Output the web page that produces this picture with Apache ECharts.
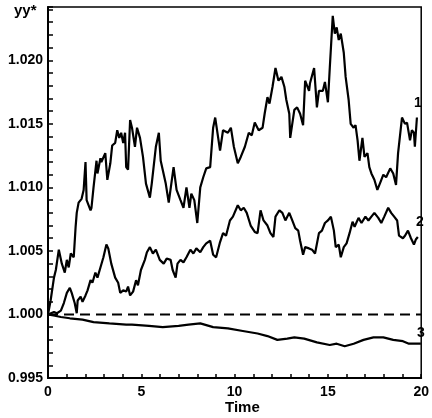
<!DOCTYPE html>
<html>
<head>
<meta charset="utf-8">
<script src="https://cdn.jsdelivr.net/npm/echarts@6/dist/echarts.min.js"></script>
<style>
html,body{margin:0;padding:0;background:#fff;}
#chart{width:432px;height:418px;}
</style>
</head>
<body>
<div id="chart"></div>
<script>
// Curve 1
var t1 = [0,0.05,0.14,0.32,0.42,0.58,0.74,0.90,1.01,1.11,1.22,1.38,1.48,1.54,1.64,1.80,1.91,2.01,2.07,2.28,2.33,2.44,2.60,2.65,2.81,2.86,3.07,3.18,3.34,3.44,3.60,3.71,3.82,3.92,4.03,4.13,4.19,4.29,4.40,4.50,4.66,4.77,4.93,5.09,5.25,5.46,5.56,5.78,5.94,6.04,6.31,6.47,6.73,6.89,7.10,7.26,7.42,7.58,7.68,7.84,8.00,8.16,8.32,8.48,8.69,8.85,8.96,9.12,9.22,9.38,9.64,9.80,9.96,10.17,10.33,10.55,10.76,10.92,11.08,11.29,11.50,11.61,11.76,11.87,12.03,12.19,12.35,12.51,12.67,12.77,12.93,12.98,13.20,13.35,13.51,13.67,13.78,13.99,14.04,14.26,14.41,14.52,14.73,14.84,15.00,15.10,15.26,15.37,15.47,15.58,15.69,15.85,15.95,16.11,16.22,16.38,16.48,16.59,16.69,16.85,16.96,17.12,17.22,17.33,17.49,17.65,17.81,17.97,18.12,18.34,18.50,18.65,18.76,18.97,19.13,19.24,19.40,19.50,19.61,19.66,19.77];
var y1 = [1.0000,1.0001,1.0011,1.0029,1.0035,1.0051,1.0040,1.0033,1.0043,1.0037,1.0048,1.0045,1.0069,1.0080,1.0088,1.0091,1.0098,1.0120,1.0090,1.0082,1.0084,1.0100,1.0121,1.0111,1.0123,1.0120,1.0127,1.0106,1.0119,1.0133,1.0135,1.0145,1.0139,1.0143,1.0135,1.0143,1.0116,1.0114,1.0153,1.0147,1.0132,1.0147,1.0139,1.0124,1.0103,1.0092,1.0103,1.0132,1.0143,1.0121,1.0103,1.0088,1.0116,1.0098,1.0090,1.0084,1.0100,1.0084,1.0095,1.0090,1.0072,1.0100,1.0108,1.0115,1.0116,1.0147,1.0155,1.0139,1.0129,1.0145,1.0143,1.0147,1.0132,1.0119,1.0124,1.0132,1.0143,1.0141,1.0151,1.0145,1.0147,1.0158,1.0171,1.0166,1.0179,1.0194,1.0184,1.0187,1.0179,1.0169,1.0158,1.0139,1.0161,1.0163,1.0158,1.0149,1.0184,1.0176,1.0182,1.0194,1.0163,1.0176,1.0176,1.0183,1.0167,1.0194,1.0235,1.0221,1.0226,1.0216,1.0221,1.0206,1.0187,1.0169,1.0150,1.0147,1.0149,1.0137,1.0121,1.0139,1.0124,1.0127,1.0116,1.0111,1.0106,1.0098,1.0104,1.0110,1.0108,1.0115,1.0111,1.0102,1.0127,1.0155,1.0150,1.0151,1.0137,1.0145,1.0143,1.0132,1.0155];
// Curve 2
var t2 = [0,0.16,0.32,0.48,0.69,0.85,1.01,1.17,1.27,1.43,1.54,1.59,1.75,1.85,2.01,2.12,2.28,2.38,2.54,2.65,2.81,2.97,3.13,3.23,3.39,3.60,3.76,3.87,4.03,4.19,4.29,4.40,4.56,4.72,4.82,4.98,5.19,5.30,5.46,5.62,5.78,5.99,6.20,6.36,6.57,6.68,6.84,6.94,7.10,7.26,7.42,7.63,7.79,7.95,8.16,8.32,8.48,8.69,8.85,9.01,9.22,9.38,9.54,9.75,9.91,10.17,10.33,10.49,10.65,10.86,11.08,11.23,11.39,11.55,11.76,11.92,12.08,12.19,12.40,12.56,12.72,12.93,13.09,13.25,13.41,13.51,13.67,13.78,13.99,14.15,14.31,14.52,14.68,14.84,15.00,15.16,15.32,15.42,15.58,15.69,15.85,16.00,16.16,16.32,16.43,16.64,16.80,17.01,17.17,17.33,17.49,17.70,17.86,18.02,18.23,18.39,18.55,18.71,18.81,19.02,19.13,19.29,19.45,19.61,19.71,19.82];
var y2 = [1.0000,1.0001,1.0002,1.0001,1.0003,1.0009,1.0017,1.0021,1.0017,1.0009,1.0001,1.0011,1.0014,1.0010,1.0015,1.0019,1.0027,1.0025,1.0033,1.0029,1.0037,1.0045,1.0055,1.0052,1.0040,1.0029,1.0025,1.0017,1.0019,1.0018,1.0022,1.0015,1.0018,1.0027,1.0023,1.0035,1.0043,1.0049,1.0053,1.0048,1.0051,1.0043,1.0040,1.0044,1.0043,1.0035,1.0029,1.0040,1.0043,1.0041,1.0045,1.0051,1.0048,1.0052,1.0049,1.0053,1.0056,1.0058,1.0047,1.0045,1.0057,1.0064,1.0062,1.0074,1.0077,1.0086,1.0082,1.0084,1.0080,1.0070,1.0065,1.0064,1.0082,1.0074,1.0070,1.0064,1.0061,1.0077,1.0082,1.0080,1.0074,1.0080,1.0074,1.0068,1.0066,1.0058,1.0047,1.0053,1.0052,1.0051,1.0048,1.0064,1.0066,1.0072,1.0074,1.0077,1.0066,1.0053,1.0055,1.0045,1.0053,1.0056,1.0064,1.0073,1.0069,1.0076,1.0072,1.0077,1.0074,1.0077,1.0080,1.0076,1.0072,1.0077,1.0084,1.0080,1.0077,1.0074,1.0062,1.0060,1.0062,1.0066,1.0060,1.0055,1.0059,1.0061];
// Curve 3
var t3 = [0,0.37,0.69,1.17,1.85,2.44,3.29,4.19,4.50,5.41,6.15,7.00,7.53,8.16,8.85,9.64,10.44,11.23,11.76,12.29,12.82,13.20,13.73,14.41,15.10,15.47,15.90,16.38,16.91,17.44,17.97,18.50,19.02,19.34,19.98];
var y3 = [1.0000,0.9999,0.9998,0.9997,0.9996,0.9994,0.9993,0.9992,0.9992,0.9991,0.9990,0.9991,0.9992,0.9993,0.9990,0.9989,0.9987,0.9985,0.9983,0.9980,0.9981,0.9982,0.9981,0.9978,0.9976,0.9977,0.9975,0.9977,0.9980,0.9982,0.9982,0.9980,0.9979,0.9977,0.9977];
// Reference (dashed) level
var refT = [0, 20];
var refY = [1.000, 1.000];
var curveNames = ['1','2','3'];

function zip(a, b){ var o=[]; for(var i=0;i<a.length;i++) o.push([a[i], b[i]]); return o; }

var font = 'Liberation Sans, Arial, Helvetica, sans-serif';
var chart = echarts.init(document.getElementById('chart'), null, {renderer:'canvas'});

function lineSeries(name, data){
  return {
    name: name, type: 'line', data: data, showSymbol: false, symbol: 'none',
    lineStyle: {color:'#000', width: 2.2}
  };
}
function txt(text, left, top, size){
  return {text: text, left: left, top: top, padding: 0,
    textStyle: {color:'#000', fontWeight:'bold', fontSize: size, fontFamily: font}};
}

chart.setOption({
  animation: false,
  title: [
    txt('yy*', 14, 3, 15),
    txt('Time', 225, 400, 15),
    txt(curveNames[0], 414, 96, 14),
    txt(curveNames[1], 416, 215, 14),
    txt(curveNames[2], 417, 326, 14)
  ],
  grid: {left: 48, right: 6, top: 7, bottom: 40, show: true, borderColor: '#000', borderWidth: 1.5},
  xAxis: {type:'value', min:0, max:20, interval:1,
    axisLine:{show:true, lineStyle:{color:'#000', width:2}},
    axisTick:{show:true, inside:true, length:4, lineStyle:{color:'#000', width:1.5}},
    axisLabel: {show: true, color:'#000', fontWeight:'bold', fontSize: 14, fontFamily: font, margin: 7,
      formatter: function(v){ return (Math.round(v) % 5 === 0) ? String(Math.round(v)) : ''; }},
    splitLine:{show:false}},
  yAxis: {type:'value', min:0.995, max:1.0242, interval:0.001,
    axisLine:{show:true, lineStyle:{color:'#000', width:2}},
    axisTick:{show:true, inside:true, length:5, lineStyle:{color:'#000', width:1.5}},
    axisLabel: {show: true, color:'#000', fontWeight:'bold', fontSize: 14, fontFamily: font, margin: 5,
      formatter: function(v){ var k = Math.round(v*1000); return (Math.abs(v*1000-k) < 1e-6 && k % 5 === 0) ? (k/1000).toFixed(3) : ''; }},
    splitLine:{show:false}},
  series: [
    lineSeries(curveNames[0], zip(t1,y1)),
    lineSeries(curveNames[1], zip(t2,y2)),
    lineSeries(curveNames[2], zip(t3,y3)),
    {type:'line', data: zip(refT, refY), showSymbol:false, symbol:'none', silent:true,
      lineStyle:{color:'#000', width:2, type:[10,6]}}
  ]
});
</script>
</body>
</html>
